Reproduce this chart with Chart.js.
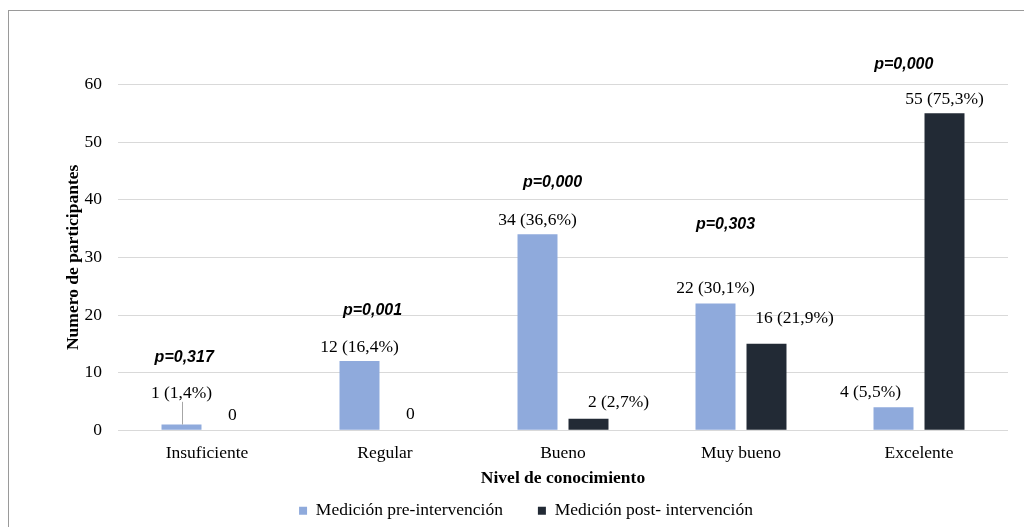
<!DOCTYPE html>
<html><head><meta charset="utf-8">
<script src="https://cdn.jsdelivr.net/npm/chart.js@4"></script>
<style>
html,body{margin:0;padding:0;background:#fff;overflow:hidden;}
#wrap{position:relative;width:1024px;height:527px;overflow:hidden;}
#frame{position:absolute;left:8px;top:10px;width:1100px;height:600px;border:1px solid #9a9a9a;box-sizing:border-box;pointer-events:none;}
canvas{position:absolute;left:0;top:0;}
</style></head><body>
<div id="wrap"><canvas id="c" width="1024" height="527"></canvas><div id="frame"></div></div>
<script>
const categories = ['Insuficiente', 'Regular', 'Bueno', 'Muy bueno', 'Excelente'];
const preValues = [1, 12, 34, 22, 4];
const postValues = [0, 0, 2, 15, 55];
const preLabels = ['1 (1,4%)', '12 (16,4%)', '34 (36,6%)', '22 (30,1%)', '4 (5,5%)'];
const postLabels = ['0', '0', '2 (2,7%)', '16 (21,9%)', '55 (75,3%)'];
const pValues = ['p=0,317', 'p=0,001', 'p=0,000', 'p=0,303', 'p=0,000'];
const yTicks = [0, 10, 20, 30, 40, 50, 60];
const seriesNames = ['Medición pre-intervención', 'Medición post- intervención'];

const SERIF = '"Liberation Serif", "Times New Roman", serif';
const FS = 17.5;

const labelPlugin = {
  id: 'barLabels',
  afterDatasetsDraw(chart, args, opts) {
    const ctx = chart.ctx;
    const xs = chart.scales.x, ys = chart.scales.y;
    ctx.save();
    ctx.font = FS + 'px ' + SERIF;
    ctx.fillStyle = '#000';
    ctx.textAlign = 'center';
    ctx.textBaseline = 'middle';
    opts.sets.forEach((set, di) => {
      const meta = chart.getDatasetMeta(di);
      meta.data.forEach((bar, i) => {
        const off = set.offsets[i];
        const tx = bar.x + off[0], ty = bar.y + off[1];
        ctx.fillText(set.labels[i], tx, ty);
        if (set.leaders && set.leaders[i]) {
          ctx.save();
          ctx.strokeStyle = '#a6a6a6';
          ctx.lineWidth = 1;
          ctx.beginPath();
          ctx.moveTo(Math.round(bar.x) + 0.5, ty + 8);
          ctx.lineTo(Math.round(bar.x) + 0.5, bar.y);
          ctx.stroke();
          ctx.restore();
        }
      });
    });
    ctx.font = 'italic bold 16px "Liberation Sans", Arial, sans-serif';
    pValues.forEach((t, i) => {
      const x = xs.getPixelForValue(i) + opts.pOffsets[i];
      const y = ys.getPixelForValue(opts.pHeights[i]);
      ctx.fillText(t, x, y);
    });
    ctx.restore();
  }
};

new Chart(document.getElementById('c'), {
  type: 'bar',
  data: {
    labels: categories,
    datasets: [
      { label: seriesNames[0], data: preValues, backgroundColor: '#8faadc', borderWidth: 0,
        barPercentage: 0.784, categoryPercentage: 0.573 },
      { label: seriesNames[1], data: postValues, backgroundColor: '#222a35', borderWidth: 0,
        barPercentage: 0.784, categoryPercentage: 0.573 }
    ]
  },
  options: {
    responsive: false,
    animation: false,
    layout: { padding: { left: 44, right: 16, top: 84.4, bottom: -2.5 } },
    plugins: {
      legend: {
        position: 'bottom',
        labels: { boxWidth: 8, boxHeight: 8, padding: 35, color: '#000', font: { family: SERIF, size: FS } }
      },
      tooltip: { enabled: false },
      barLabels: {
        sets: [
          { labels: preLabels, offsets: [[0, -30.7], [0, -13.7], [0, -13.5], [0, -15.3], [-23, -15]], leaders: [true, false, false, false, false] },
          { labels: postLabels, offsets: [[0, -15.3], [0, -16], [30, -16], [28, -25.7], [0, -13.5]] }
        ],
        pOffsets: [-22.8, -12.5, -10.5, -15.5, -15.2],
        pHeights: [12.6, 20.8, 42.9, 35.6, 63.4]
      }
    },
    scales: {
      x: {
        grid: { display: false },
        border: { display: false },
        ticks: { color: '#000', font: { family: SERIF, size: FS }, padding: 5 },
        title: { display: true, text: 'Nivel de conocimiento', color: '#000',
                 font: { family: SERIF, size: FS, weight: 'bold' }, padding: { top: 0, bottom: -21.5 } },
        afterFit(s) { s.height = 36.7; }
      },
      y: {
        min: 0, max: 60,
        afterBuildTicks(s) { s.ticks = yTicks.map(v => ({ value: v })); },
        ticks: { color: '#000', font: { family: SERIF, size: FS }, padding: 16 },
        grid: { color: '#d9d9d9', lineWidth: 1, drawTicks: false },
        border: { display: false },
        title: { display: true, text: 'Numero de participantes', color: '#000',
                 font: { family: SERIF, size: FS, weight: 'bold' }, padding: { top: 19, bottom: 0 } },
        afterFit(s) { s.width = 74; }
      }
    }
  },
  plugins: [labelPlugin]
});
</script>
</body></html>
